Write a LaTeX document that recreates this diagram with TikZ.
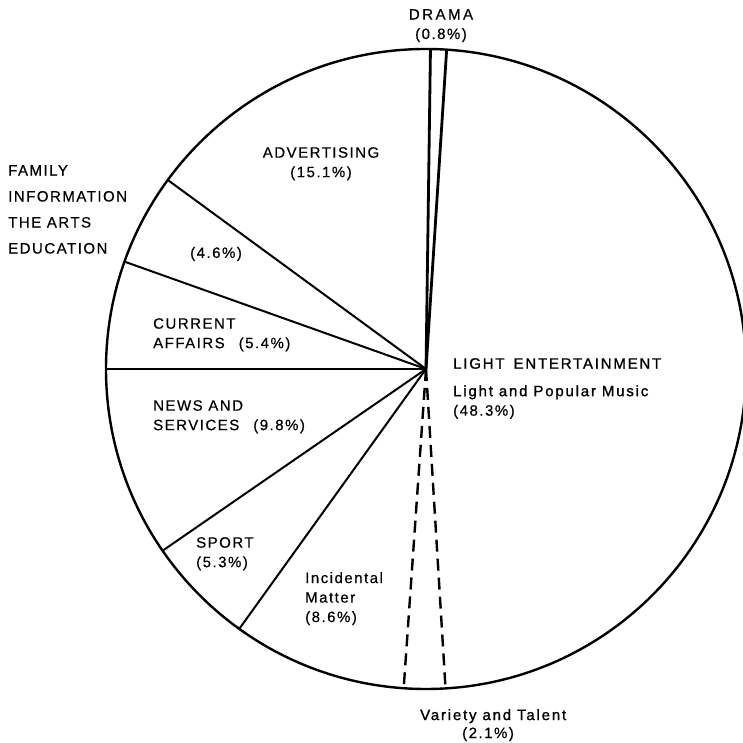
\documentclass[tikz,border=0pt]{standalone}
\usepackage{fontspec}
\setmainfont{Liberation Sans}[LetterSpace=10, FakeBold=0.5]
\newfontfamily\heavyfont{Liberation Sans}[LetterSpace=12, FakeBold=1.2]
\begin{document}
\begin{tikzpicture}[x=1pt,y=1pt,
  lbl/.style={inner sep=0pt, font=\fontsize{15}{19.5}\selectfont, align=left},
  spoke/.style={line width=2pt},
  thickspoke/.style={line width=2.8pt},
  dsh/.style={line width=2.4pt, dash pattern=on 12pt off 7pt}]
\useasboundingbox (0,0) rectangle (743,743);
\coordinate (c) at (426,374);
\draw[line width=2.4pt] (c) circle[radius=320pt];
\foreach \a/\n in {180/e1, 160.4/e2, 143.8/e3, 89.2/e4, 86.3/e5, 273.5/e6, 266/e7, 234.3/e8, 214.6/e9}
  \path (c) ++(\a:320) coordinate (\n);
\draw[spoke] (c) -- (e1);
\draw[spoke] (c) -- (e2);
\draw[spoke] (c) -- (e3);
\draw[thickspoke] (c) -- (e4);
\draw[thickspoke] (c) -- (e5);
\draw[dsh] (c) -- (e6);
\draw[dsh] (c) -- (e7);
\draw[spoke] (c) -- (e8);
\draw[spoke] (c) -- (e9);
\node[lbl, anchor=north, align=center] (drama) at (441,734) {D\,R\,A\,M\,A\\(0.8\%)};
\node[lbl, anchor=north, align=center] (adv) at (321,596) {ADVERTISING\\(15.1\%)};
\node[lbl, anchor=north west, font=\fontsize{15}{26}\selectfont] (fam) at (8,578) {FAMILY\\INFORMATION\\THE ARTS\\EDUCATION};
\node[lbl, anchor=west] (fampct) at (190,489) {(4.6\%)};
\node[lbl, anchor=north west] (ca) at (153,425) {CURRENT\\AFFAIRS\hspace{14pt}(5.4\%)};
\node[lbl, anchor=north west] (news) at (153,343) {NEWS AND\\SERVICES\hspace{14pt}(9.8\%)};
\node[lbl, anchor=north west] (sport) at (196,206) {SPORT\\(5.3\%)};
\node[lbl, anchor=north west] (inc) at (305,171) {Incidental\\Matter\\(8.6\%)};
\node[lbl, anchor=north west] (light) at (453,385) {{\heavyfont LIGHT\hspace{9pt}ENTERTAINMENT}\\[8pt]{\heavyfont Light and Popular Music}\\(48.3\%)};
\node[lbl, anchor=north west] (var) at (420,34) {{\heavyfont Variety and Talent}};
\node[lbl, anchor=north west] (varpct) at (462,16) {(2.1\%)};
\end{tikzpicture}
\end{document}
